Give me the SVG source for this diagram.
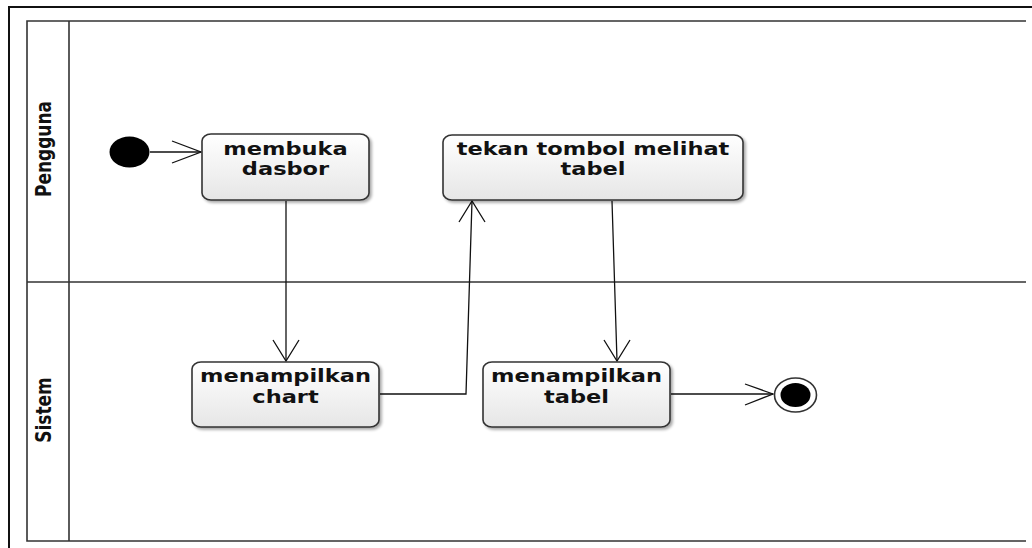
<svg xmlns="http://www.w3.org/2000/svg" width="1032" height="548" viewBox="0 0 1032 548">
  <style>
    .frame { fill: none; stroke: #111; stroke-width: 2; }
    .lane { fill: none; stroke: #333; stroke-width: 1.6; }
    .act { fill: url(#actFill); stroke: #333; stroke-width: 1.6; filter: url(#shadow); }
    .lbl { font-family: "DejaVu Sans", Verdana, sans-serif; font-weight: bold; font-size: 18px; fill: #111; text-anchor: middle; }
    .laneLbl { font-family: "DejaVu Sans", Verdana, sans-serif; font-weight: bold; font-size: 17px; fill: #111; text-anchor: middle; }
    .flow { fill: none; stroke: #111; stroke-width: 1.3; }
  </style>
  <defs>
    <linearGradient id="actFill" x1="0" y1="0" x2="0" y2="1">
      <stop offset="0" stop-color="#ffffff"/>
      <stop offset="1" stop-color="#e6e6e6"/>
    </linearGradient>
    <filter id="shadow" x="-10%" y="-10%" width="125%" height="135%">
      <feGaussianBlur in="SourceAlpha" stdDeviation="1.5"/>
      <feOffset dx="2" dy="2" result="b"/>
      <feComponentTransfer><feFuncA type="linear" slope="0.35"/></feComponentTransfer>
      <feMerge><feMergeNode/><feMergeNode in="SourceGraphic"/></feMerge>
    </filter>
  </defs>

  <rect width="1032" height="548" fill="#fff"/>

  <!-- outer frame -->
  <path class="frame" d="M9,548 V7 H1032"/>

  <!-- swimlanes -->
  <g id="lanes">
    <path class="lane" d="M1026,21 H27 V541 H1026"/>
    <line class="lane" x1="69" y1="21" x2="69" y2="541"/>
    <line class="lane" x1="27" y1="282" x2="1026" y2="282"/>
    <text class="laneLbl" transform="translate(51,149) scale(1.2,1) rotate(-90)">Pengguna</text>
    <text class="laneLbl" transform="translate(51,410) scale(1.2,1) rotate(-90)">Sistem</text>
  </g>

  <!-- connectors -->
  <g id="connectors">
    <line class="flow" x1="150" y1="152" x2="201" y2="152"/>
    <polyline class="flow" points="172,141 201,152 172,163"/>

    <line class="flow" x1="286" y1="201" x2="286" y2="361"/>
    <polyline class="flow" points="273,340 286,361 299,340"/>

    <polyline class="flow" points="380,394 466,394 472,201"/>
    <polyline class="flow" points="459,222 472,201 485,222"/>

    <line class="flow" x1="612" y1="201" x2="617" y2="361"/>
    <polyline class="flow" points="604,340 617,361 630,340"/>

    <line class="flow" x1="671" y1="394" x2="773" y2="394"/>
    <polyline class="flow" points="745,384 773,394 745,405"/>
  </g>

  <!-- start node -->
  <g id="start">
    <ellipse cx="129.5" cy="152" rx="20" ry="15.5" fill="#000"/>
  </g>

  <g id="membuka-dasbor">
    <rect class="act" x="202" y="134" width="167" height="66" rx="9" ry="7"/>
    <text class="lbl" transform="translate(285.5,155) scale(1.25,1)">membuka</text>
    <text class="lbl" transform="translate(285.5,175) scale(1.25,1)">dasbor</text>
  </g>

  <g id="tekan-tombol">
    <rect class="act" x="443" y="135" width="300" height="65" rx="9" ry="7"/>
    <text class="lbl" transform="translate(593,155) scale(1.25,1)">tekan tombol melihat</text>
    <text class="lbl" transform="translate(593,175) scale(1.25,1)">tabel</text>
  </g>

  <g id="menampilkan-chart">
    <rect class="act" x="192" y="362" width="187" height="65" rx="9" ry="7"/>
    <text class="lbl" transform="translate(285.5,382) scale(1.25,1)">menampilkan</text>
    <text class="lbl" transform="translate(285.5,403) scale(1.25,1)">chart</text>
  </g>

  <g id="menampilkan-tabel">
    <rect class="act" x="483" y="362" width="187" height="65" rx="9" ry="7"/>
    <text class="lbl" transform="translate(576.5,382) scale(1.25,1)">menampilkan</text>
    <text class="lbl" transform="translate(576.5,403) scale(1.25,1)">tabel</text>
  </g>

  <!-- final node -->
  <g id="end">
    <ellipse cx="795.5" cy="395" rx="21" ry="17" fill="#fff" stroke="#333" stroke-width="1.6"/>
    <ellipse cx="795.5" cy="395" rx="15" ry="12" fill="#000"/>
  </g>
</svg>
